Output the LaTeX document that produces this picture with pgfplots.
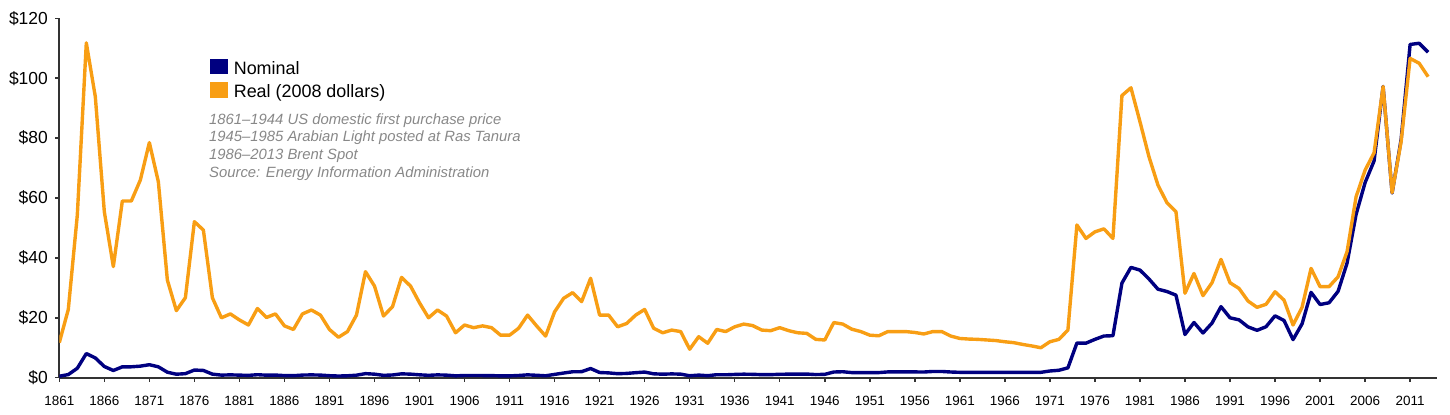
\documentclass[border=0pt]{standalone}
\usepackage{pgfplots}
\pgfplotsset{compat=1.18}
\usepackage{pgfplotstable}
\usepackage{fontspec}
\setmainfont{Liberation Sans}
\definecolor{nom}{RGB}{0,0,128}
\definecolor{realc}{RGB}{248,158,20}
\definecolor{axgray}{RGB}{51,51,51}
\definecolor{notegray}{RGB}{136,136,136}
\pgfplotstableread{
year nom real
1861 0.49 11.7
1862 1.05 22.8
1863 3.15 54.3
1864 8.06 111.8
1865 6.59 93.8
1866 3.74 55.4
1867 2.41 37.1
1868 3.63 59.0
1869 3.64 59.0
1870 3.86 66.0
1871 4.34 78.5
1872 3.64 65.4
1873 1.83 32.6
1874 1.17 22.4
1875 1.35 26.7
1876 2.56 52.1
1877 2.42 49.3
1878 1.19 26.7
1879 0.86 20.0
1880 0.95 21.3
1881 0.86 19.3
1882 0.78 17.6
1883 1.00 23.1
1884 0.84 20.1
1885 0.88 21.3
1886 0.71 17.3
1887 0.67 16.1
1888 0.88 21.3
1889 0.94 22.6
1890 0.87 20.9
1891 0.67 16.1
1892 0.56 13.5
1893 0.64 15.4
1894 0.84 20.9
1895 1.36 35.4
1896 1.18 30.6
1897 0.79 20.6
1898 0.91 23.7
1899 1.29 33.5
1900 1.19 30.6
1901 0.96 25.0
1902 0.80 20.0
1903 0.94 22.6
1904 0.86 20.6
1905 0.62 15.0
1906 0.73 17.6
1907 0.72 16.7
1908 0.72 17.3
1909 0.70 16.7
1910 0.61 14.2
1911 0.61 14.2
1912 0.74 16.5
1913 0.95 20.9
1914 0.81 17.3
1915 0.64 13.9
1916 1.10 22.0
1917 1.56 26.5
1918 1.98 28.4
1919 2.01 25.4
1920 3.07 33.2
1921 1.73 20.9
1922 1.61 20.9
1923 1.34 17.0
1924 1.43 18.1
1925 1.68 20.9
1926 1.88 22.8
1927 1.30 16.5
1928 1.17 15.0
1929 1.27 15.9
1930 1.19 15.4
1931 0.65 9.5
1932 0.87 13.7
1933 0.67 11.5
1934 1.00 16.1
1935 0.97 15.4
1936 1.09 17.0
1937 1.18 17.9
1938 1.13 17.4
1939 1.02 15.9
1940 1.02 15.7
1941 1.14 16.7
1942 1.19 15.7
1943 1.20 15.0
1944 1.21 14.8
1945 1.05 12.8
1946 1.12 12.6
1947 1.90 18.4
1948 1.99 17.9
1949 1.71 16.2
1950 1.71 15.4
1951 1.71 14.2
1952 1.71 14.0
1953 1.93 15.4
1954 1.93 15.4
1955 1.93 15.4
1956 1.93 15.1
1957 1.90 14.6
1958 2.08 15.4
1959 2.08 15.4
1960 1.90 13.9
1961 1.80 13.1
1962 1.80 12.9
1963 1.80 12.8
1964 1.80 12.6
1965 1.80 12.4
1966 1.80 12.0
1967 1.80 11.7
1968 1.80 11.1
1969 1.80 10.6
1970 1.80 10.0
1971 2.24 12.0
1972 2.48 12.8
1973 3.29 15.9
1974 11.58 51.0
1975 11.53 46.5
1976 12.80 48.7
1977 13.92 49.7
1978 14.02 46.5
1979 31.61 94.2
1980 36.83 96.8
1981 35.93 85.5
1982 32.97 73.8
1983 29.55 64.3
1984 28.78 58.4
1985 27.56 55.4
1986 14.43 28.2
1987 18.44 34.8
1988 14.92 27.4
1989 18.23 31.7
1990 23.73 39.5
1991 20.00 31.7
1992 19.32 29.8
1993 16.97 25.6
1994 15.82 23.5
1995 17.02 24.5
1996 20.67 28.7
1997 19.09 25.9
1998 12.72 17.6
1999 17.97 23.5
2000 28.50 36.5
2001 24.44 30.4
2002 25.02 30.4
2003 28.83 33.7
2004 38.27 42.1
2005 54.52 60.4
2006 65.14 69.3
2007 72.39 75.1
2008 97.26 97.2
2009 61.67 61.8
2010 79.50 78.8
2011 111.26 106.6
2012 111.67 105.0
2013 108.66 100.5
}\oildata
\begin{document}
\begin{tikzpicture}[x=1bp,y=1bp]
\useasboundingbox (0,0) rectangle (1450,414);
\begin{axis}[
  at={(59.3bp,36.3bp)}, anchor=south west,
  scale only axis, width=1377.8bp, height=359.4bp,
  xmin=1861, xmax=2014, ymin=0, ymax=120,
  axis x line=bottom, axis y line=left,
  axis line style={-, draw=axgray, line width=2bp},
  xtick={1861,1866,...,2011},
  ytick={0,20,...,120},
  yticklabel={\$\pgfmathprintnumber{\tick}},
  /pgf/number format/assume math mode=true,
  /pgf/number format/1000 sep={},
  tick align=outside, major tick length=4bp,
  tick style={draw=axgray, line width=1.5bp},
  xticklabel style={font=\fontsize{13.5}{16}\selectfont, inner sep=0pt, yshift=-14bp},
  yticklabel style={font=\fontsize{17.5}{20}\selectfont, inner sep=0pt, xshift=-7.3bp},
]
\addplot[color=nom, line width=3.4bp, line join=round] table[x=year, y=nom] {\oildata};
\addplot[color=realc, line width=3.4bp, line join=round] table[x=year, y=real] {\oildata};
\end{axis}
% legend
\fill[nom] (210,339.7) rectangle (227.7,355);
\fill[realc] (210,315.7) rectangle (227.7,331.7);
\begin{scope}[every node/.style={anchor=base west, inner sep=0pt, font=\fontsize{18}{21}\selectfont}]
\node at (233.6,339.7) {Nominal};
\node at (233.6,316.3) {Real (2008 dollars)};
\end{scope}
\begin{scope}[every node/.style={anchor=base west, inner sep=0pt, text=notegray, font=\itshape\fontsize{14.9}{17.8}\selectfont}]
\node at (209,290) {1861–1944 US domestic first purchase price};
\node at (209,272.2) {1945–1985 Arabian Light posted at Ras Tanura};
\node at (209,254.4) {1986–2013 Brent Spot};
\node at (209,236.6) {Source: Energy Information Administration};
\end{scope}
\end{tikzpicture}
\end{document}
